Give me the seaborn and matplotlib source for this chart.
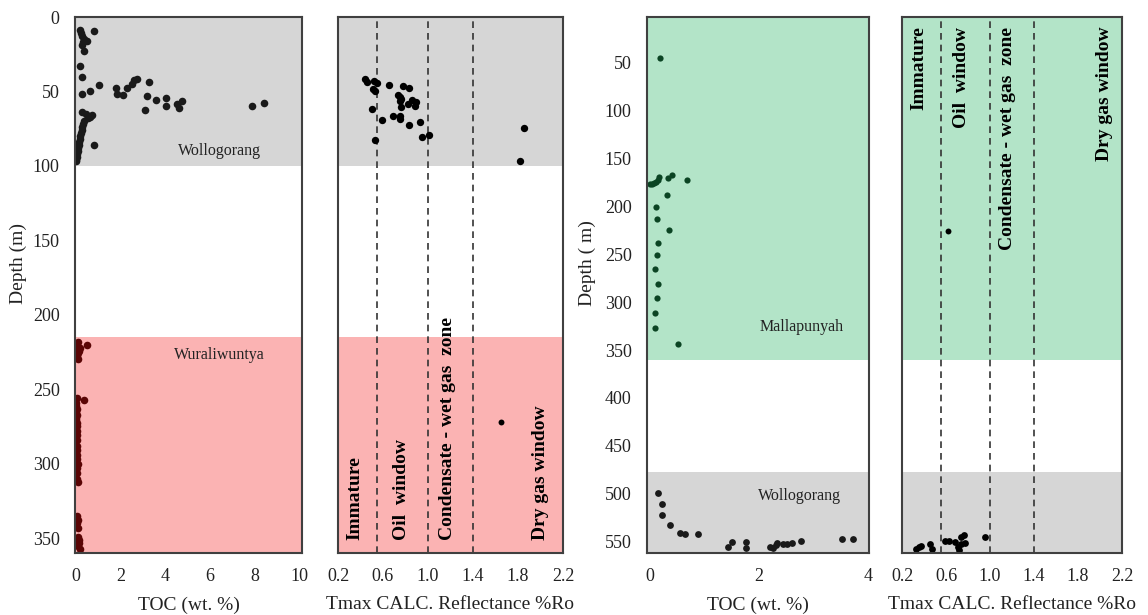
import numpy as np
import pandas as pd
import matplotlib
matplotlib.use("Agg")
import matplotlib.pyplot as plt
import seaborn as sns

# ---------------- DATA ----------------
# Well 1 (left pair) - Wollogorang TOC
w1_wol_depth = [9, 11, 13, 15, 17, 16, 19, 9.6, 22.5, 33, 40, 52, 49.7, 46, 47.5, 52, 52.7, 48,
                44.8, 42.6, 41.5, 43.7, 53.3, 55.6, 62.2, 54.2, 59.6, 58.2, 61, 56.2, 60, 57.6,
                64, 65, 66, 67, 68, 70, 72, 74, 76, 78, 80, 82, 84, 86, 86, 88, 90, 92, 94, 96, 97]
w1_wol_toc = [0.2, 0.25, 0.3, 0.4, 0.35, 0.5, 0.3, 0.82, 0.37, 0.2, 0.28, 0.28, 0.63, 1.04, 1.82,
              1.84, 2.11, 2.29, 2.53, 2.63, 2.74, 3.26, 3.2, 3.57, 3.11, 4.05, 4.05, 4.52, 4.61,
              4.76, 7.89, 8.41,
              0.3, 0.45, 0.75, 0.65, 0.55, 0.4, 0.35, 0.3, 0.28, 0.25, 0.22, 0.2, 0.18, 0.15,
              0.82, 0.12, 0.1, 0.08, 0.05, 0.03, 0.02]
# Well 1 - Wuraliwuntya TOC
w1_wur_depth = [218, 220, 221, 222, 224, 226, 228, 230,
                256, 257, 259, 261, 263, 265, 267, 269, 271, 273, 275, 278, 281, 284, 288, 291,
                294, 297, 300, 303, 306, 310, 312,
                335, 338, 340, 343, 349, 351, 353, 355, 357]
w1_wur_toc = [0.1, 0.5, 0.05, 0.2, 0.15, 0.1, 0.08, 0.12,
              0.05, 0.4, 0.02, 0.03, 0.05, 0.02, 0.06, 0.04, 0.03, 0.07, 0.05, 0.08, 0.06, 0.05,
              0.07, 0.05, 0.06, 0.08, 0.1, 0.07, 0.05, 0.08, 0.1,
              0.08, 0.1, 0.06, 0.1, 0.12, 0.18, 0.15, 0.1, 0.2]
# Well 1 - Ro
w1_ro_wol_depth = [41.6, 43.4, 42.7, 44.3, 48.3, 49.5, 45.4, 46.1, 47.4, 52.1, 53.9, 55, 56.2, 58.4,
                   55.5, 57.3, 59.5, 60.6, 62, 69.3, 66.6, 66.2, 68.5, 72.7, 70.5, 82.3, 80.8, 79,
                   74.5, 96.9]
w1_ro_wol = [0.44, 0.46, 0.52, 0.55, 0.51, 0.53, 0.65, 0.78, 0.83, 0.73, 0.75, 0.76, 0.75, 0.82,
             0.86, 0.89, 0.88, 0.76, 0.50, 0.59, 0.69, 0.75, 0.75, 0.83, 0.93, 0.53, 0.95, 1.01,
             1.85, 1.82]
w1_ro_wur_depth = [272]
w1_ro_wur = [1.65]

# Well 2 (right pair) - Mallapunyah TOC
w2_mal_depth = [45, 176, 176, 175, 174, 169, 172, 170, 167, 172, 188, 200.6, 213, 225, 238, 251,
                265, 281, 296, 311, 327, 344]
w2_mal_toc = [0.18, 0.0, 0.04, 0.08, 0.11, 0.17, 0.16, 0.34, 0.40, 0.68, 0.32, 0.12, 0.13, 0.36,
              0.15, 0.13, 0.10, 0.15, 0.13, 0.09, 0.10, 0.52]
# Well 2 - Wollogorang TOC
w2_wol_depth = [499, 511, 522, 533, 541, 542, 542, 556, 550, 550, 557, 556, 557, 554, 552, 553,
                553, 552, 549, 547, 547]
w2_wol_toc = [0.15, 0.23, 0.23, 0.37, 0.55, 0.65, 0.89, 1.44, 1.50, 1.76, 1.77, 2.20, 2.26, 2.31,
              2.34, 2.45, 2.51, 2.61, 2.78, 3.52, 3.73]
# Well 2 - Ro
w2_ro_mal_depth = [226]
w2_ro_mal = [0.62]
w2_ro_wol_depth = [558, 556, 555, 553, 558, 549, 549, 551, 556, 559, 553, 543, 545, 552, 545]
w2_ro_wol = [0.33, 0.35, 0.37, 0.45, 0.47, 0.59, 0.63, 0.68, 0.71, 0.72, 0.74, 0.76, 0.74, 0.77,
             0.95]

# Maturity zone boundaries and labels
ro_bounds = [0.55, 1.0, 1.4]
zone_labels = ["Immature", "Oil  window", "Condensate - wet gas  zone", "Dry gas window"]
zone_x_w1 = [0.35, 0.76, 1.17, 2.0]
zone_x_w2 = [0.355, 0.745, 1.16, 2.045]

# Formation intervals
w1_units = [("Wollogorang", 0, 100, "#d6d6d6"), ("Wuraliwuntya", 215, 360, "#fbb3b3")]
w2_units = [("Mallapunyah", 0, 360, "#b3e4c8"), ("Wollogorang", 477, 562, "#d6d6d6")]

toc_ticks_w1 = [0, 2, 4, 6, 8, 10]
toc_ticks_w2 = [0, 2, 4]
ro_ticks = [0.2, 0.6, 1.0, 1.4, 1.8, 2.2]
depth_ticks_w1 = [0, 50, 100, 150, 200, 250, 300, 350]
depth_ticks_w2 = [50, 100, 150, 200, 250, 300, 350, 400, 450, 500, 550]

# ---------------- STYLE ----------------
sns.set_style("white")
plt.rcParams["font.family"] = ["Liberation Serif", "DejaVu Serif"]
plt.rcParams["axes.edgecolor"] = "#404040"
plt.rcParams["axes.linewidth"] = 1.5

fig = plt.figure(figsize=(11.48, 6.15), dpi=100)
W, H = 1148, 615
def add_ax(x0, x1, y0=17, y1=553):
    return fig.add_axes([x0 / W, 1 - y1 / H, (x1 - x0) / W, (y1 - y0) / H])

ax1 = add_ax(75, 302)
ax2 = add_ax(338, 563)
ax3 = add_ax(647, 869)
ax4 = add_ax(902, 1122)

BLACK = "#1a1a1a"
DRED = "#5a0505"
DGREEN = "#0b4423"

def scatter(ax, x, y, color, s):
    df = pd.DataFrame({"x": x, "y": y})
    sns.scatterplot(data=df, x="x", y="y", ax=ax, color=color, s=s, linewidth=0,
                    legend=False, clip_on=True, zorder=3)

# ---- Well 1 TOC
for name, top, bot, col in w1_units:
    ax1.axhspan(top, bot, color=col, zorder=0, lw=0)
    ax2.axhspan(top, bot, color=col, zorder=0, lw=0)
scatter(ax1, w1_wol_toc, w1_wol_depth, BLACK, 30)
scatter(ax1, w1_wur_toc, w1_wur_depth, DRED, 30)
ax1.set_xlim(-0.02, 10.1)
ax1.set_ylim(360, 0)
ax1.set_xticks(toc_ticks_w1)
ax1.set_yticks(depth_ticks_w1)
ax1.text(6.4, 90, "Wollogorang", fontsize=11.5, ha="center", va="center", color="#222222")
ax1.text(6.4, 227, "Wuraliwuntya", fontsize=11.5, ha="center", va="center", color="#222222")
ax1.set_xlabel("TOC (wt. %)", fontsize=14)
ax1.set_ylabel("Depth (m)", fontsize=14)

# ---- Well 1 Ro
scatter(ax2, w1_ro_wol, w1_ro_wol_depth, "black", 28)
scatter(ax2, w1_ro_wur, w1_ro_wur_depth, "black", 18)
ax2.set_xlim(0.2, 2.2)
ax2.set_ylim(360, 0)
ax2.set_xticks(ro_ticks)
ax2.set_xticklabels([f"{v:.1f}" for v in ro_ticks])
ax2.set_yticks([])
for b in ro_bounds:
    ax2.axvline(b, color="#333333", ls=(0, (4, 3)), lw=1.2, zorder=1)
for lab, xx in zip(zone_labels, zone_x_w1):
    ax2.text(xx, 351, lab, rotation=90, ha="center", va="bottom", fontsize=14,
             fontweight="bold", color="black")
ax2.set_xlabel("Tmax CALC. Reflectance %Ro", fontsize=14)
ax2.set_ylabel("")

# ---- Well 2 TOC
for name, top, bot, col in w2_units:
    ax3.axhspan(top, bot, color=col, zorder=0, lw=0)
    ax4.axhspan(top, bot, color=col, zorder=0, lw=0)
scatter(ax3, w2_mal_toc, w2_mal_depth, DGREEN, 20)
scatter(ax3, w2_wol_toc, w2_wol_depth, BLACK, 24)
ax3.set_xlim(-0.05, 4.02)
ax3.set_ylim(562, 2)
ax3.set_xticks(toc_ticks_w2)
ax3.set_yticks(depth_ticks_w2)
ax3.text(2.79, 326, "Mallapunyah", fontsize=11.5, ha="center", va="center", color="#222222")
ax3.text(2.75, 502, "Wollogorang", fontsize=11.5, ha="center", va="center", color="#222222")
ax3.set_xlabel("TOC (wt. %)", fontsize=14)
ax3.set_ylabel("Depth ( m)", fontsize=14)

# ---- Well 2 Ro
scatter(ax4, w2_ro_mal, w2_ro_mal_depth, "black", 18)
scatter(ax4, w2_ro_wol, w2_ro_wol_depth, "black", 24)
ax4.set_xlim(0.2, 2.2)
ax4.set_ylim(562, 2)
ax4.set_xticks(ro_ticks)
ax4.set_xticklabels([f"{v:.1f}" for v in ro_ticks])
ax4.set_yticks([])
for b in ro_bounds:
    ax4.axvline(b, color="#333333", ls=(0, (4, 3)), lw=1.2, zorder=1)
for lab, xx in zip(zone_labels, zone_x_w2):
    ax4.text(xx, 12, lab, rotation=90, ha="center", va="top", fontsize=14,
             fontweight="bold", color="black")
ax4.set_xlabel("Tmax CALC. Reflectance %Ro", fontsize=14)
ax4.set_ylabel("")

for ax in (ax1, ax2, ax3, ax4):
    ax.tick_params(axis="both", length=0, labelsize=13, pad=11, colors="#222222")
    ax.xaxis.label.set_color("#222222")
    ax.yaxis.label.set_color("#222222")
    for sp in ax.spines.values():
        sp.set_visible(True)
        sp.set_color("#404040")
        sp.set_linewidth(1.5)
        sp.set_zorder(5)
    ax.xaxis.labelpad = 8

ax1.yaxis.set_label_coords(-0.21, 0.54)
ax3.yaxis.set_label_coords(-0.23, 0.54)

fig.savefig("out.png", dpi=100)
